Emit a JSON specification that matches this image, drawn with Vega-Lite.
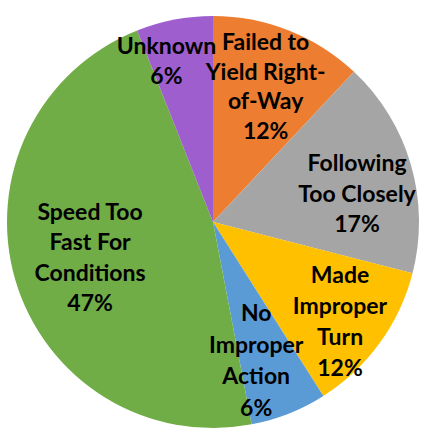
{
  "$schema": "https://vega.github.io/schema/vega-lite/v6.json",
  "autosize": {"type": "none"},
  "width": 412,
  "height": 414,
  "padding": {"left": 7, "top": 15, "right": 2, "bottom": 0},
  "background": "white",
  "view": {"stroke": null},
  "config": {"text": {"font": "Lato", "fontWeight": "bold", "fontSize": 23, "lineBreak": "\n", "color": "#000000", "align": "center", "baseline": "middle"}},
  "data": {"values": [
    {"order": 1, "cause": "Failed to Yield Right-of-Way", "pct": 12, "label": "Failed to\nYield Right-\nof-Way\n12%"},
    {"order": 2, "cause": "Following Too Closely", "pct": 17, "label": "Following\nToo Closely\n17%"},
    {"order": 3, "cause": "Made Improper Turn", "pct": 12, "label": "Made\nImproper\nTurn\n12%"},
    {"order": 4, "cause": "No Improper Action", "pct": 6, "label": "No\nImproper\nAction\n6%"},
    {"order": 5, "cause": "Speed Too Fast For Conditions", "pct": 47, "label": "Speed Too\nFast For\nConditions\n47%"},
    {"order": 6, "cause": "Unknown", "pct": 6, "label": "Unknown\n6%"}
  ]},
  "encoding": {
    "theta": {"field": "pct", "type": "quantitative", "stack": true},
    "order": {"field": "order", "type": "quantitative"}
  },
  "layer": [
    {
      "mark": {"type": "arc"},
      "encoding": {
        "color": {
          "field": "cause", "type": "nominal", "legend": null,
          "scale": {
            "domain": ["Failed to Yield Right-of-Way", "Following Too Closely", "Made Improper Turn", "No Improper Action", "Speed Too Fast For Conditions", "Unknown"],
            "range": ["#ED7D31", "#A5A5A5", "#FFC000", "#5B9BD5", "#70AD47", "#9E5ECE"]
          }
        }
      }
    },
    {
      "mark": {"type": "text", "radius": 143, "dy": -46, "lineHeight": 29.5},
      "encoding": {"text": {"condition": {"test": "datum.order == 1", "field": "label"}, "value": ""}}
    },
    {
      "mark": {"type": "text", "radius": 150, "dy": -16, "lineHeight": 30.5},
      "encoding": {"text": {"condition": {"test": "datum.order == 2", "field": "label"}, "value": ""}}
    },
    {
      "mark": {"type": "text", "radius": 157, "dy": -38, "lineHeight": 31},
      "encoding": {"text": {"condition": {"test": "datum.order == 3", "field": "label"}, "value": ""}}
    },
    {
      "mark": {"type": "text", "radius": 150, "dx": -12, "dy": -47, "lineHeight": 31.5},
      "encoding": {"text": {"condition": {"test": "datum.order == 4", "field": "label"}, "value": ""}}
    },
    {
      "mark": {"type": "text", "radius": 128, "dy": -45, "lineHeight": 30.5},
      "encoding": {"text": {"condition": {"test": "datum.order == 5", "field": "label"}, "value": ""}}
    },
    {
      "mark": {"type": "text", "radius": 163, "dx": -16, "dy": -15, "lineHeight": 30},
      "encoding": {"text": {"condition": {"test": "datum.order == 6", "field": "label"}, "value": ""}}
    }
  ]
}
